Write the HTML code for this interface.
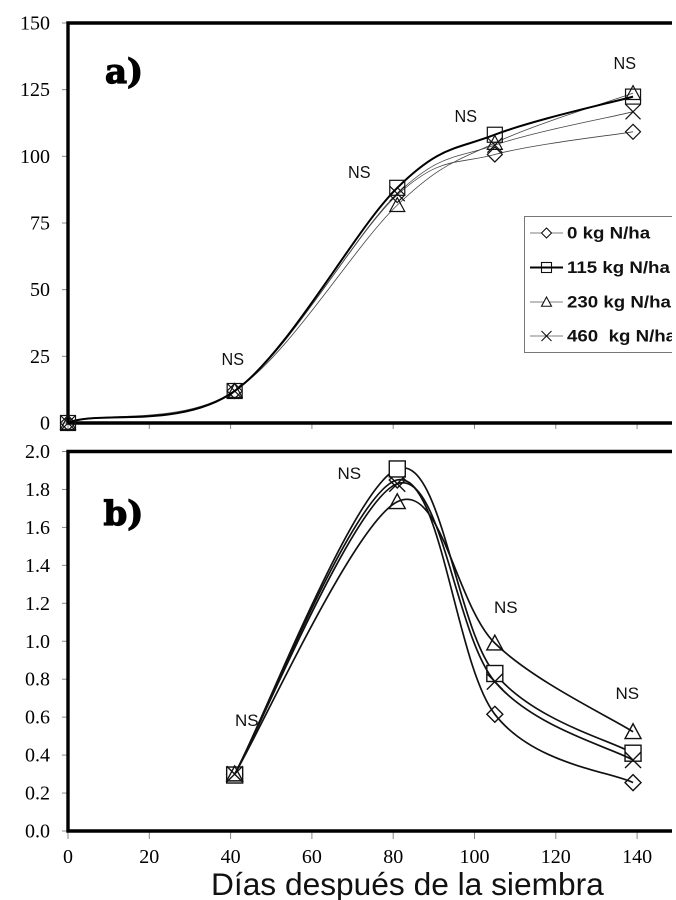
<!DOCTYPE html>
<html lang="es">
<head>
<meta charset="utf-8">
<title>Días después de la siembra</title>
<style>
html,body{margin:0;padding:0;background:#fff;width:676px;height:900px;overflow:hidden}
svg{display:block}
.tick-label{font-family:"Liberation Serif",serif;font-size:20px;fill:#000}
.ns{font-family:"Liberation Sans",sans-serif;fill:#111}
.panel{font-family:"DejaVu Serif",serif;font-weight:bold;font-size:34px;fill:#000;stroke:#000;stroke-width:1.2px}
.legend-text{font-family:"Liberation Sans",sans-serif;font-weight:bold;font-size:17px;fill:#111;white-space:pre}
</style>
</head>
<body>
<svg id="chart" xmlns="http://www.w3.org/2000/svg" width="676" height="900" viewBox="0 0 676 900">
  <defs><clipPath id="page-clip"><rect x="0" y="0" width="672" height="900"/></clipPath></defs>
  <g id="root" clip-path="url(#page-clip)"></g>
  <text x="211" y="895" font-family="'Liberation Sans',sans-serif" font-size="31.7px" fill="#111">Días después de la siembra</text>
</svg>
<script>
const seriesNames = ['0 kg N/ha', '115 kg N/ha', '230 kg N/ha', '460  kg N/ha'];
const seriesMarkers = ['diamond', 'square', 'triangle', 'cross'];

const daysA = [0, 41, 81, 105, 139];
const panelA0 = [0, 12, 85.5, 100.7, 109.2];
const panelA115 = [0, 12, 88.2, 108.1, 122.4];
const panelA230 = [0, 12, 81.7, 105, 123.7];
const panelA460 = [0, 12, 86, 104.2, 116.7];

const daysB = [41, 81, 105, 139];
const panelB0 = [0.3, 1.85, 0.615, 0.255];
const panelB115 = [0.295, 1.908, 0.83, 0.41];
const panelB230 = [0.3, 1.735, 0.99, 0.523];
const panelB460 = [0.3, 1.83, 0.787, 0.374];

const xTicks = [0, 20, 40, 60, 80, 100, 120, 140];
const yTicksA = [0, 25, 50, 75, 100, 125, 150];
const yTicksB = ['0.0', '0.2', '0.4', '0.6', '0.8', '1.0', '1.2', '1.4', '1.6', '1.8', '2.0'];

const root = document.getElementById('root');
const NS = 'http://www.w3.org/2000/svg';

function make(tag, attrs, parent) {
  const e = document.createElementNS(NS, tag);
  for (const k in attrs) e.setAttribute(k, attrs[k]);
  (parent || root).appendChild(e);
  return e;
}
function xScale(d) { return 68 + d * 4.065; }
function yScaleA(v) { return 423 - v * (400 / 150); }
function yScaleB(v) { return 831 - v * (379.5 / 2); }

function smoothPath(pts, startLift) {
  let d = 'M' + pts[0][0].toFixed(2) + ' ' + pts[0][1].toFixed(2);
  for (let i = 0; i < pts.length - 1; i++) {
    const p0 = pts[Math.max(i - 1, 0)], p1 = pts[i], p2 = pts[i + 1], p3 = pts[Math.min(i + 2, pts.length - 1)];
    const lift = i === 0 ? startLift : 1;
    const c1x = p1[0] + (p2[0] - p0[0]) / 6, c1y = p1[1] + lift * (p2[1] - p0[1]) / 6;
    const c2x = p2[0] - (p3[0] - p1[0]) / 6, c2y = p2[1] - (p3[1] - p1[1]) / 6;
    d += 'C' + [c1x, c1y, c2x, c2y, p2[0], p2[1]].map(n => n.toFixed(2)).join(' ');
  }
  return d;
}

function drawMarker(kind, cx, cy, r, fill, sw, parent) {
  const common = { fill: fill, stroke: '#111', 'stroke-width': sw };
  let m;
  if (kind === 'diamond') {
    m = make('polygon', Object.assign({ points: [cx, cy - r, cx + r, cy, cx, cy + r, cx - r, cy].join(' ') }, common), parent);
  } else if (kind === 'square') {
    m = make('rect', Object.assign({ x: cx - r, y: cy - r, width: 2 * r, height: 2 * r }, common), parent);
  } else if (kind === 'triangle') {
    m = make('polygon', Object.assign({ points: [cx, cy - r, cx + r, cy + r * 0.85, cx - r, cy + r * 0.85].join(' ') }, common), parent);
  } else {
    m = make('path', Object.assign({ d: 'M' + (cx - r) + ' ' + (cy - r) + 'L' + (cx + r) + ' ' + (cy + r) + 'M' + (cx + r) + ' ' + (cy - r) + 'L' + (cx - r) + ' ' + (cy + r) }, common, { fill: 'none' }), parent);
  }
  return m;
}

function drawFrame(top, bottom, prefix) {
  const f = make('path', { d: 'M672 ' + top + 'H68V' + bottom + 'H672', fill: 'none', stroke: '#000', 'stroke-width': 3.4 });
  
  
}

function drawYAxis(ticks, yScale, prefix) {
  ticks.forEach(t => {
    const y = yScale(parseFloat(t));
    const line = make('line', { x1: 62, x2: 68, y1: y, y2: y, stroke: '#888', 'stroke-width': 1 });
    
    
    const label = make('text', { x: 50, y: y + 6.5, 'text-anchor': 'end', class: 'tick-label' });
    label.textContent = t;
    
    
  });
}

function drawXTicks(y, len, prefix) {
  xTicks.forEach(t => {
    const x = xScale(t);
    const line = make('line', { x1: x, x2: x, y1: y, y2: y + len, stroke: '#888', 'stroke-width': 1 });
    
    
  });
}

function drawSeries(days, values, yScale, idx, width, color, r, fill, msw, prefix, startLift) {
  const g = make('g', {});
  
  
  const pts = days.map((d, i) => [xScale(d), yScale(values[i])]);
  const line = make('path', { d: smoothPath(pts, startLift), fill: 'none', stroke: color, 'stroke-width': width }, g);
  
  
  pts.forEach(p => {
    const m = drawMarker(seriesMarkers[idx], p[0], p[1], r, fill, msw, g);
    
    
  });
}

function drawNS(x, y, size, prefix, narrow) {
  const t = make('text', { x: x, y: y, class: 'ns', 'font-size': size });
  if (narrow) {
    t.setAttribute('textLength', narrow);
    t.setAttribute('lengthAdjust', 'spacingAndGlyphs');
  }
  t.textContent = 'NS';
  
  
}

/* panel a */
drawYAxis(yTicksA.map(String), yScaleA, 'panel-a');
drawXTicks(424, 5, 'panel-a');
drawFrame(23, 423, 'panel-a');
const seriesA = [panelA0, panelA115, panelA230, panelA460];
const widthsA = [0.8, 2, 0.8, 0.8];
const colorsA = ['#444', '#000', '#444', '#444'];
[0, 2, 3, 1].forEach(i => drawSeries(daysA, seriesA[i], yScaleA, i, widthsA[i], colorsA[i], 7.5, 'none', 1.2, 'panel-a', 2.5));

/* panel b */
drawYAxis(yTicksB, yScaleB, 'panel-b');
drawXTicks(832, 7, 'panel-b');
drawFrame(451.5, 831, 'panel-b');
const seriesB = [panelB0, panelB115, panelB230, panelB460];
[0, 1, 2, 3].forEach(i => drawSeries(daysB, seriesB[i], yScaleB, i, 1.7, '#111', 8, i === 1 ? '#fff' : 'none', 1.4, 'panel-b', 1));

xTicks.forEach(t => {
  const label = make('text', { x: xScale(t), y: 863, 'text-anchor': 'middle', class: 'tick-label' });
  label.textContent = String(t);
  
  
});

drawNS(221.5, 365, '17.5px', 'panel-a', 22.5);
drawNS(348, 178, '17.5px', 'panel-a', 22.5);
drawNS(454.5, 122, '17.5px', 'panel-a', 22.5);
drawNS(613.5, 69, '17.5px', 'panel-a', 22.5);
drawNS(235, 726, '17px', 'panel-b');
drawNS(337.5, 479, '17px', 'panel-b');
drawNS(494, 613, '17px', 'panel-b');
drawNS(615.5, 699, '17px', 'panel-b');

const labelA = make('text', { x: 105, y: 83, class: 'panel' });
labelA.textContent = 'a)';


const labelB = make('text', { x: 103.5, y: 525, class: 'panel' });
labelB.textContent = 'b)';



/* legend */
const legend = make('g', {});


make('rect', { x: 524.5, y: 216.5, width: 170, height: 136, fill: '#fff', stroke: '#777', 'stroke-width': 1 }, legend);
const legendRowY = [233, 267.5, 302, 336];
seriesNames.forEach((name, i) => {
  const y = legendRowY[i];
  const entry = make('g', {}, legend);
  
  
  make('line', { x1: 530, x2: 563, y1: y, y2: y, stroke: widthsA[i] > 1 ? '#000' : '#555', 'stroke-width': widthsA[i] }, entry);
  drawMarker(seriesMarkers[i], 546.5, y, 5, seriesMarkers[i] === 'square' ? 'none' : '#fff', 1.1, entry);
  const t = make('text', { transform: 'translate(567 ' + (y + 5.5) + ') scale(1.1 1)', class: 'legend-text' }, entry);
  t.textContent = name;
});
</script>
</body>
</html>
